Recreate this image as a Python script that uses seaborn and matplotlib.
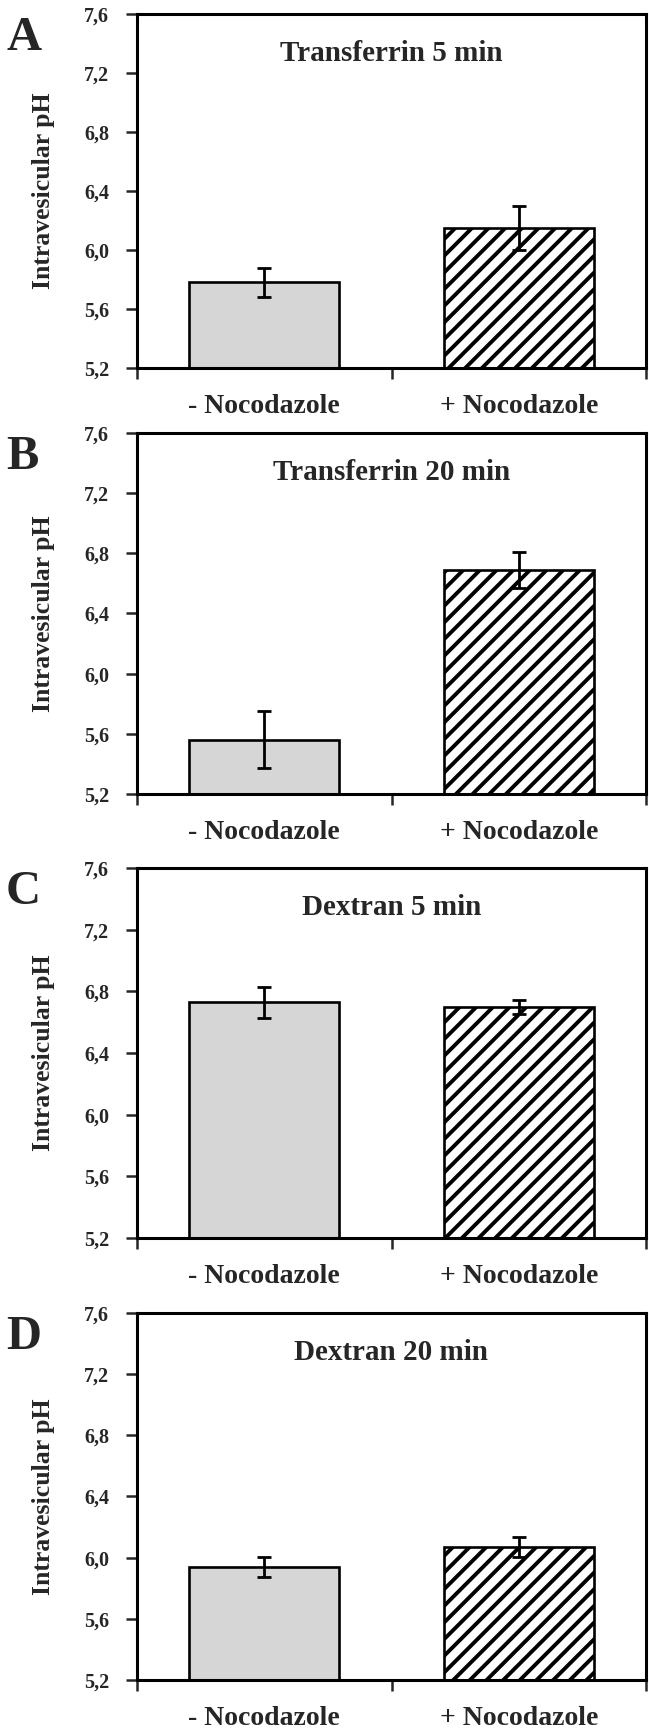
import matplotlib
matplotlib.use("Agg")
import matplotlib.pyplot as plt
import seaborn as sns
import pandas as pd

# ---- data ----
conditions = ["- Nocodazole", "+ Nocodazole"]
panel_letters = ["A", "B", "C", "D"]
panel_titles = ["Transferrin 5 min", "Transferrin 20 min", "Dextran 5 min", "Dextran 20 min"]
ph_transferrin_5 = [5.78, 6.15]
ph_transferrin_20 = [5.56, 6.69]
ph_dextran_5 = [6.73, 6.70]
ph_dextran_20 = [5.94, 6.07]
err_transferrin_5 = [0.10, 0.15]
err_transferrin_20 = [0.19, 0.12]
err_dextran_5 = [0.10, 0.045]
err_dextran_20 = [0.065, 0.065]
y_ticks = [5.2, 5.6, 6.0, 6.4, 6.8, 7.2, 7.6]
y_tick_labels = ["5,2", "5,6", "6,0", "6,4", "6,8", "7,2", "7,6"]
y_label = "Intravesicular pH"

values = [ph_transferrin_5, ph_transferrin_20, ph_dextran_5, ph_dextran_20]
errors = [err_transferrin_5, err_transferrin_20, err_dextran_5, err_dextran_20]

sns.set_theme(style="white")
plt.rcParams["font.family"] = ["Liberation Serif", "DejaVu Serif"]
plt.rcParams["font.weight"] = "bold"
plt.rcParams["hatch.linewidth"] = 2.8
plt.rcParams["hatch.color"] = "#2a2a2a"

W, H = 649, 1730
fig = plt.figure(figsize=(W / 100, H / 100), dpi=100)

# axes extents in pixels (top, bottom)
extents = [(14, 368), (433, 794), (868, 1238), (1313, 1680)]
left_px, right_px = 137, 646

for i in range(4):
    top, bot = extents[i]
    ax = fig.add_axes([left_px / W, 1 - bot / H, (right_px - left_px) / W, (bot - top) / H])
    df = pd.DataFrame({"cond": conditions, "ph": values[i]})
    sns.barplot(data=df, x="cond", y="ph", ax=ax, width=0.59, errorbar=None,
                color="#d6d6d6", edgecolor="black", linewidth=1.9, saturation=1)
    patches = ax.patches
    patches[0].set_facecolor("#d6d6d6")
    patches[1].set_facecolor("white")
    patches[1].set_hatch("//")
    ax.errorbar([0, 1], values[i], yerr=errors[i], fmt="none", ecolor="black",
                elinewidth=2.0, capsize=5, capthick=2.0, zorder=5)
    ax.set_xlim(-0.5, 1.5)
    ax.set_ylim(5.2, 7.6)
    ax.set_yticks(y_ticks)
    ax.set_yticklabels(y_tick_labels, fontsize=14.5, fontweight="bold")
    ax.set_xticks([0, 1])
    ax.set_xticklabels(conditions, fontsize=20, fontweight="bold")
    ax.set_xticks([-0.5, 0.5, 1.5], minor=True)
    ax.tick_params(axis="x", which="major", length=0, pad=19)
    ax.tick_params(axis="x", which="minor", length=8, width=1.8, direction="out", bottom=True)
    ax.tick_params(axis="y", which="major", length=8, width=1.8, direction="out", left=True, pad=12)
    ax.set_xlabel("")
    ax.set_ylabel(y_label, fontsize=18.5, fontweight="bold")
    ax.yaxis.set_label_coords(-0.161, 0.5)
    for s in ax.spines.values():
        s.set_visible(True)
        s.set_color("black")
        s.set_linewidth(2.2)
    ax.text(0.5, 1 - 47 / (bot - top), panel_titles[i], transform=ax.transAxes,
            ha="center", va="baseline", fontsize=21, fontweight="bold")
    fig.text(6 / W, 1 - (top + 2) / H, panel_letters[i], ha="left", va="top",
             fontsize=35, fontweight="bold")

fig.savefig("out.png", dpi=100)
